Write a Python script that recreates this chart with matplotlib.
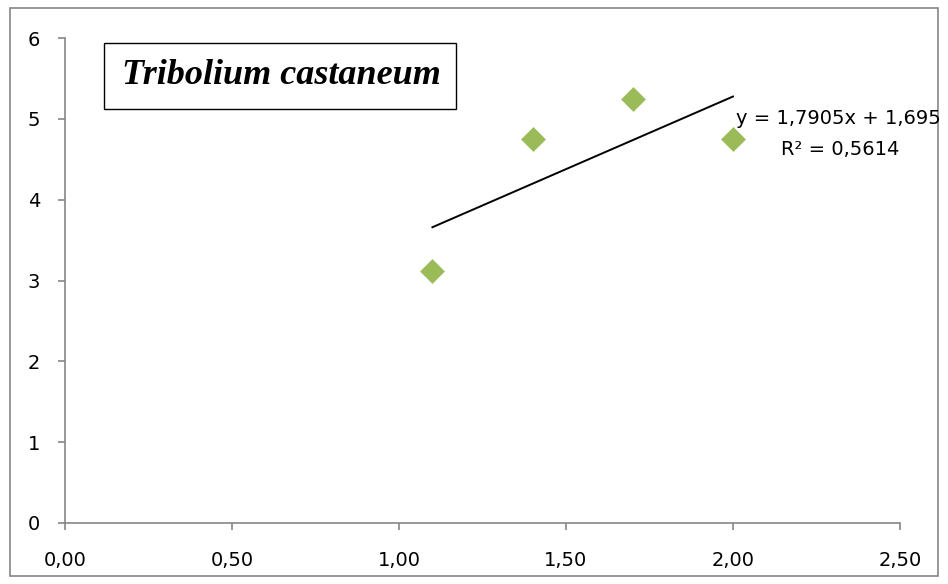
import numpy as np
import matplotlib.pyplot as plt
from matplotlib.patches import Rectangle
from matplotlib.ticker import FuncFormatter

# data
x_vals = [1.10, 1.40, 1.70, 2.00]
y_vals = [3.12, 4.75, 5.25, 4.75]
x_ticks = [0.0, 0.5, 1.0, 1.5, 2.0, 2.5]
y_ticks = [0, 1, 2, 3, 4, 5, 6]
title_text = "Tribolium castaneum"

fig = plt.figure(figsize=(9.48, 5.84), dpi=100)
ax = fig.add_axes([65 / 948, 1 - 523 / 584, 835 / 948, 485 / 584])

# outer chart border
fig.patches.append(Rectangle((10 / 948, 8 / 584), 928 / 948, 568 / 584,
                             transform=fig.transFigure, fill=False,
                             edgecolor='#868686', linewidth=1.2))

ax.scatter(x_vals, y_vals, marker='D', s=160, color='#9BBB59', zorder=3,
           linewidths=0)

# linear trend line
slope, intercept = np.polyfit(x_vals, y_vals, 1)
xs = np.array([min(x_vals), max(x_vals)])
ax.plot(xs, slope * xs + intercept, color='black', linewidth=1.4)

ax.set_xlim(0, 2.5)
ax.set_ylim(0, 6)
ax.set_xticks(x_ticks)
ax.set_yticks(y_ticks)
ax.xaxis.set_major_formatter(FuncFormatter(lambda v, p: f"{v:.2f}".replace('.', ',')))

for side in ['top', 'right']:
    ax.spines[side].set_visible(False)
for side in ['left', 'bottom']:
    ax.spines[side].set_color('#868686')
    ax.spines[side].set_linewidth(1.2)
ax.tick_params(direction='out', length=5, width=1.2, color='#868686',
               labelsize=14, labelcolor='black')
ax.tick_params(axis='x', pad=15)
ax.tick_params(axis='y', pad=13)

fig.text(838 / 948, 1 - 118 / 584, "y = 1,7905x + 1,695",
         fontsize=14, ha='center', va='center')
fig.text(840 / 948, 1 - 149 / 584, "R² = 0,5614",
         fontsize=14, ha='center', va='center')

# title box
fig.patches.append(Rectangle((104 / 948, 1 - 109 / 584), 352 / 948, 66 / 584,
                             transform=fig.transFigure, fill=True,
                             facecolor='white', edgecolor='black', linewidth=1.0))
fig.text(122 / 948, 1 - 76 / 584, title_text, family='Liberation Serif',
         fontsize=26, fontweight='bold', fontstyle='italic', ha='left', va='center')

fig.savefig('out.png', dpi=100)
